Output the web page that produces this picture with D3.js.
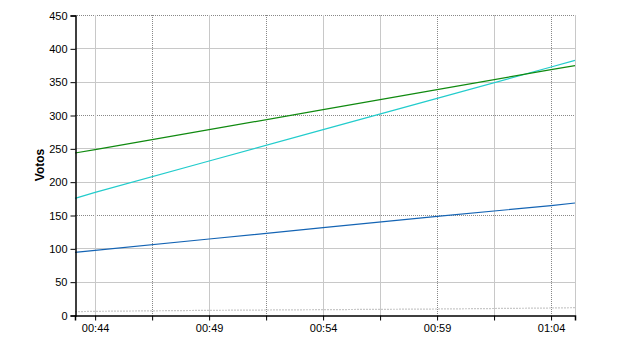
<!DOCTYPE html>
<html>
<head>
<meta charset="utf-8">
<script src="https://cdn.jsdelivr.net/npm/d3@7"></script>
<style>
body { margin: 0; background: #fff; }
svg text { font-family: "Liberation Sans", Arial, sans-serif; font-size: 11px; fill: #000; }
</style>
</head>
<body>
<svg id="chart"></svg>
<script>
var width = 640;
var height = 350;
var svg = d3.select("#chart").attr("width", width).attr("height", height);

// sample times and vote counts
var times = ["00:43:07", "00:44:00", "00:49:00", "00:54:00", "00:59:00", "01:04:00", "01:05:03"];
var greenVotes = [243, 248, 278, 308, 338, 368, 374];
var cyanVotes = [175, 184, 231, 278, 325, 372, 382];
var blueVotes = [94, 97, 114, 131, 148, 164, 168];
var greyVotes = [5, 5.5, 7, 8, 9, 10.5, 11];

var xTicks = ["00:44:00", "00:46:30", "00:49:00", "00:51:30", "00:54:00", "00:56:30", "00:59:00", "01:01:30", "01:04:00"];
var xLabels = ["00:44", "00:49", "00:54", "00:59", "01:04"];
var yTicks = [0, 50, 100, 150, 200, 250, 300, 350, 400, 450];

var parse = d3.timeParse("%H:%M:%S");
var margin = {left: 75, right: 65, top: 15, bottom: 35};

var x = d3.scaleTime()
	.domain(d3.extent(times, function(d) { return parse(d); }))
	.range([margin.left, width - margin.right]);
var y = d3.scaleLinear().domain([0, 450]).range([height - margin.bottom, margin.top]);

// gridlines: some are dotted and darker, others solid light grey
var dottedX = ["00:46:30", "00:51:30", "00:59:00", "01:04:00"];
var dottedY = [150, 300, 450];

var grid = svg.append("g").attr("class", "grid");
grid.selectAll("line.h").data(yTicks.filter(function(d) { return d > 0; })).enter().append("line")
	.attr("x1", margin.left).attr("x2", width - margin.right)
	.attr("y1", function(d) { return Math.round(y(d)) + 0.5; })
	.attr("y2", function(d) { return Math.round(y(d)) + 0.5; })
	.attr("stroke", function(d) { return dottedY.indexOf(d) >= 0 ? "#888" : "#c8c8c8"; })
	.attr("stroke-dasharray", function(d) { return dottedY.indexOf(d) >= 0 ? "1,1" : null; });

grid.selectAll("line.v").data(xTicks).enter().append("line")
	.attr("y1", margin.top).attr("y2", height - margin.bottom)
	.attr("x1", function(d) { return Math.round(x(parse(d))) + 0.5; })
	.attr("x2", function(d) { return Math.round(x(parse(d))) + 0.5; })
	.attr("stroke", function(d) { return dottedX.indexOf(d) >= 0 ? "#888" : "#c8c8c8"; })
	.attr("stroke-dasharray", function(d) { return dottedX.indexOf(d) >= 0 ? "1,1" : null; });

// right border
svg.append("line")
	.attr("x1", width - margin.right + 0.5).attr("x2", width - margin.right + 0.5)
	.attr("y1", margin.top).attr("y2", height - margin.bottom)
	.attr("stroke", "#c8c8c8");

var series = [
	{values: greyVotes, color: "#c8c8c8", dash: "2,1"},
	{values: blueVotes, color: "#1464b4"},
	{values: cyanVotes, color: "#22cccc"},
	{values: greenVotes, color: "#108a10"}
];

var line = d3.line()
	.x(function(d, i) { return x(parse(times[i])); })
	.y(function(d) { return y(d); });

svg.append("g").selectAll("path").data(series).enter().append("path")
	.attr("d", function(s) { return line(s.values); })
	.attr("fill", "none")
	.attr("stroke", function(s) { return s.color; })
	.attr("stroke-width", 1.2)
	.attr("stroke-dasharray", function(s) { return s.dash || null; });

// axes
var yAxis = svg.append("g")
	.attr("transform", "translate(" + (margin.left + 0.5) + ",0.5)")
	.call(d3.axisLeft(y).tickValues(yTicks).tickSize(5).tickPadding(3));
yAxis.select(".domain").attr("stroke", "#000").attr("stroke-width", 1.5);

var xAxis = svg.append("g")
	.attr("transform", "translate(0," + (height - margin.bottom + 0.5) + ")")
	.call(d3.axisBottom(x)
		.tickValues(xTicks.map(function(d) { return parse(d); }))
		.tickSize(5).tickPadding(4)
		.tickFormat(function(d) {
			var s = d3.timeFormat("%H:%M")(d);
			return xLabels.indexOf(s) >= 0 && d.getSeconds() === 0 ? s : "";
		}));
xAxis.select(".domain").attr("stroke", "#000").attr("stroke-width", 1.5);
svg.selectAll(".tick text").style("font-family", "'Liberation Sans', Arial, sans-serif").style("font-size", "11px").attr("fill", "#000");

svg.append("text")
	.attr("transform", "translate(44," + ((margin.top + height - margin.bottom) / 2) + ") rotate(-90)")
	.attr("text-anchor", "middle")
	.style("font-weight", "bold")
	.style("font-size", "12px")
	.text("Votos");
</script>
</body>
</html>
